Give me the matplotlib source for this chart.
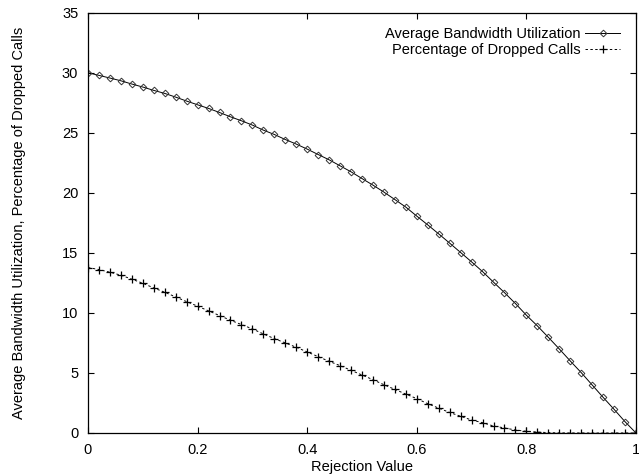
import matplotlib
matplotlib.use("Agg")
import matplotlib.pyplot as plt
import numpy as np

plt.rcParams["font.family"] = ["Liberation Sans", "DejaVu Sans"]

# rejection values 0.00, 0.02, ..., 1.00
REJECTION = [i / 50 for i in range(51)]

BANDWIDTH = [
    30.0, 29.78, 29.56, 29.33, 29.06, 28.81, 28.53, 28.28, 27.97, 27.64,
    27.33, 27.03, 26.69, 26.33, 26.0, 25.64, 25.22, 24.86, 24.44, 24.06,
    23.64, 23.19, 22.75, 22.25, 21.75, 21.19, 20.64, 20.06, 19.44, 18.81,
    18.06, 17.33, 16.58, 15.81, 15.03, 14.25, 13.44, 12.56, 11.69, 10.78,
    9.81, 8.92, 7.97, 7.0, 6.0, 5.03, 4.0, 2.97, 1.97, 0.94,
    0.0,
]

DROPPED = [
    13.78, 13.61, 13.39, 13.14, 12.81, 12.47, 12.08, 11.72, 11.33, 10.94,
    10.56, 10.17, 9.78, 9.39, 9.03, 8.67, 8.25, 7.86, 7.5, 7.14,
    6.75, 6.36, 5.97, 5.61, 5.22, 4.83, 4.44, 4.02, 3.63, 3.24,
    2.86, 2.44, 2.07, 1.71, 1.39, 1.08, 0.86, 0.58, 0.42, 0.25,
    0.14, 0.08, 0.03, 0.01, 0.0, 0.0, 0.0, 0.0, 0.0, 0.0,
    0.0,
]

X_TICKS = [0, 0.2, 0.4, 0.6, 0.8, 1]
X_TICK_LABELS = ["0", "0.2", "0.4", "0.6", "0.8", "1"]
Y_TICKS = [0, 5, 10, 15, 20, 25, 30, 35]

fig = plt.figure(figsize=(6.39, 4.75), dpi=100)
ax = fig.add_axes([88 / 639, 42 / 475, 548 / 639, 420.3 / 475])

ax.plot(REJECTION, BANDWIDTH, color="black", linewidth=0.7,
        marker="D", markersize=3.4, markerfacecolor="none",
        markeredgecolor="#333333", markeredgewidth=0.7,
        label="Average Bandwidth Utilization")
ax.plot(REJECTION, DROPPED, color="black", linewidth=0.7,
        linestyle=(0, (2.5, 2.5)), marker="+", markersize=5.5,
        markeredgewidth=0.9, label="Percentage of Dropped Calls")

ax.set_xlim(0, 1)
ax.set_ylim(0, 35)
ax.set_xticks(X_TICKS)
ax.set_xticklabels(X_TICK_LABELS)
ax.set_yticks(Y_TICKS)
ax.tick_params(direction="in", length=4, width=0.8, top=True, right=True,
               labelsize=10.5, pad=7)
for spine in ax.spines.values():
    spine.set_linewidth(0.9)

ax.set_xlabel("Rejection Value", fontsize=10.5)
ax.set_ylabel("Average Bandwidth Utilization, Percentage of Dropped Calls", fontsize=10.5)
ax.xaxis.set_label_coords(0.5, -0.064)
ax.yaxis.set_label_coords(-0.113, 0.5)

ax.legend(loc="upper right", markerfirst=False, frameon=False, fontsize=10.5,
          handlelength=2.4, handletextpad=0.3, labelspacing=0.15,
          borderaxespad=0.3, bbox_to_anchor=(0.99, 0.99))

fig.savefig("out.png", dpi=100)
